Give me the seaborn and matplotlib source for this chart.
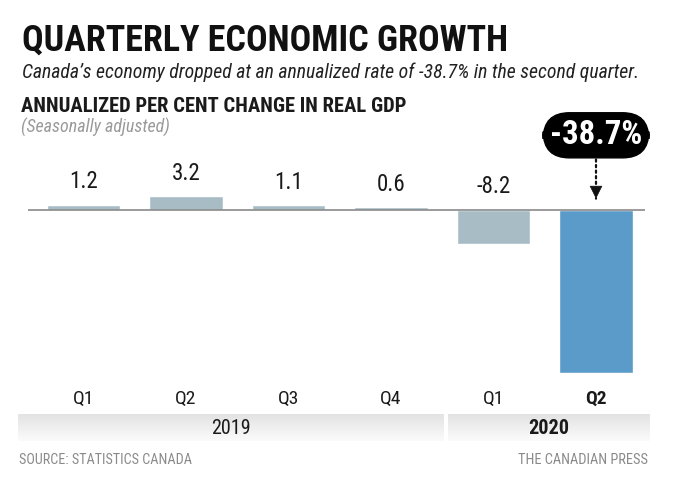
import numpy as np
import pandas as pd
import matplotlib
matplotlib.use("Agg")
import matplotlib.pyplot as plt
import seaborn as sns
from matplotlib import font_manager

years = ["2019", "2019", "2019", "2019", "2020", "2020"]
quarters = ["Q1", "Q2", "Q3", "Q4", "Q1", "Q2"]
growth = [1.2, 3.2, 1.1, 0.6, -8.2, -38.7]
bar_colors = ["#a8bcc6", "#a8bcc6", "#a8bcc6", "#a8bcc6", "#a8bcc6", "#5a9bc9"]
callout = "-38.7%"

W, H = 683, 478


def fy(px):
    return 1 - px / H


def fx(px):
    return px / W


# condensed-ish font if there is one, else Lato
names = {f.name for f in font_manager.fontManager.ttflist}
fams = [n for n in ["Liberation Sans Narrow", "Roboto Condensed", "Open Sans Condensed", "Lato"]
        if n in names] + ["DejaVu Sans"]

sns.set_theme(style="white")
plt.rcParams["font.family"] = fams

df = pd.DataFrame({"year": years, "quarter": quarters, "growth": growth})
df["period"] = df["year"] + " " + df["quarter"]

fig = plt.figure(figsize=(W / 100, H / 100), dpi=100)
fig.patch.set_facecolor("white")

# background bands for the years (gradient)
bg = fig.add_axes([0, 0, 1, 1], zorder=0)
grad = np.linspace(0, 1, 64).reshape(-1, 1)
band_cmap = matplotlib.colors.LinearSegmentedColormap.from_list("band", ["#e3e3e3", "#fbfbfb"])
band_x = {"2019": (18, 444), "2020": (448, 650)}
for yr in sorted(set(years)):
    x0, x1 = band_x[yr]
    bg.imshow(grad, extent=(x0, x1, 441, 414), cmap=band_cmap, aspect="auto", zorder=0)
    bg.text((x0 + x1) / 2, 428, yr, ha="center", va="center", fontsize=14.5,
            color="#1a1a1a", fontweight="bold" if yr == years[-1] else "normal")
bg.set_xlim(0, W)
bg.set_ylim(H, 0)
bg.axis("off")

ax = fig.add_axes([fx(28), fy(373), fx(645) - fx(28), fy(150.5) - fy(373)], zorder=1)
ax.patch.set_alpha(0)
sns.barplot(data=df, x="period", y="growth", hue="period", palette=bar_colors,
            legend=False, width=0.72, saturation=1, errorbar=None, ax=ax, zorder=2)
ax.set_xlim(-0.541, 5.478)
ax.set_ylim(-38.7, 14)
ax.axhline(0, color="#8a8a8a", lw=1.2, zorder=3)
for s in ax.spines.values():
    s.set_visible(False)
ax.set_yticks([])
ax.set_xlabel("")
ax.set_ylabel("")
ax.set_xticks(range(len(quarters)), labels=quarters)
ax.tick_params(axis="x", length=0, pad=12, labelsize=14, labelcolor="#1a1a1a")
ax.get_xticklabels()[-1].set_fontweight("bold")

for i, v in enumerate(growth[:-1]):
    ax.annotate(f"{v}", xy=(i, max(v, 0)), xytext=(0, 8), textcoords="offset points",
                ha="center", va="bottom", fontsize=16.5, color="#1a1a1a")

last = len(growth) - 1
ax.annotate("", xy=(last, 2.6), xytext=(last, 13.2),
            arrowprops=dict(arrowstyle="-", linestyle=(0, (1, 1.5)), color="#111111", lw=1.6,
                            shrinkA=0, shrinkB=0))
ax.annotate("", xy=(last, 2.6), xytext=(last, 5.0),
            arrowprops=dict(arrowstyle="-|>,head_width=0.35,head_length=0.7", color="#111111",
                            lw=0.5, shrinkA=0, shrinkB=0))
box = ax.text(last, 17.6, callout, ha="center", va="center", fontsize=20, fontweight="bold",
              color="white", clip_on=False,
              bbox=dict(boxstyle="round,pad=0.2,rounding_size=0.8", fc="black", ec="black"))

# titles
texts = [
    (fig.text(fx(22), fy(51), "QUARTERLY ECONOMIC GROWTH", fontsize=23, fontweight="bold",
              color="#111111", va="baseline"), 488),
    (fig.text(fx(22), fy(78.3),
              "Canada\u2019s economy dropped at an annualized rate of -38.7% in the second quarter.",
              fontsize=12.5, style="italic", color="#222222", va="baseline"), 618),
    (fig.text(fx(21), fy(111.7), "ANNUALIZED PER CENT CHANGE IN REAL GDP", fontsize=13.2,
              fontweight="bold", color="#1a1a1a", va="baseline"), 387),
    (fig.text(fx(21), fy(133), "(Seasonally adjusted)", fontsize=11, style="italic",
              color="#9a9a9a", va="baseline"), 149),
    (fig.text(fx(19), fy(464.5), "SOURCE: STATISTICS CANADA", fontsize=9.5, color="#8a8a8a",
              va="baseline"), 173),
    (fig.text(fx(648), fy(464.5), "THE CANADIAN PRESS", fontsize=9.5, color="#8a8a8a",
              va="baseline", ha="right"), 130),
    (box, 92),
]

# shrink/grow text so it spans the same width as in the original
fig.canvas.draw()
r = fig.canvas.get_renderer()
for t, target in texts:
    w = t.get_window_extent(r).width
    t.set_fontsize(t.get_fontsize() * target / w)

fig.savefig("out.png", dpi=100)
